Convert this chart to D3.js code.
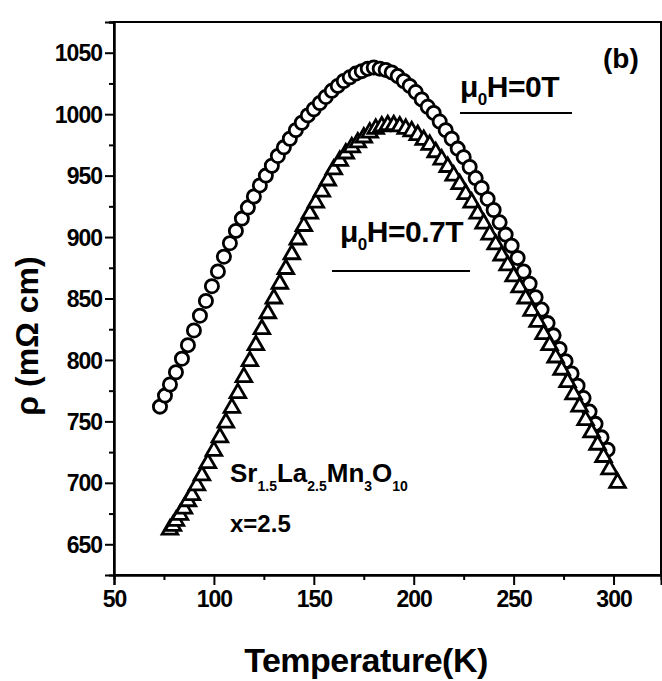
<!DOCTYPE html>
<html><head><meta charset="utf-8">
<script src="https://cdn.jsdelivr.net/npm/d3@7/dist/d3.min.js"></script>
<style>
html,body{margin:0;padding:0;background:#fff;}
text{font-family:"Liberation Sans",Arial,sans-serif;font-weight:bold;fill:#000;}
</style></head>
<body>
<svg id="chart" width="662" height="681"></svg>
<script>
// 0 T series (open circles)
const tempZero = [73,75.5,78,81,84,87,90,93,96,99,102,105,108,111,114,117,120,123,126,129,132,135,138,141,144,147,150,153,156,159,162,165,168,171,174,177,180,183,186,189,192,195,198,201,204,207,210,213,216,219,222,225,228,231,234,237,240,243,246,249,252,255,258,261,264,267,270,273,276,279,282,285,288,291,294,297];
const rhoZero = [762,771,780,790,801,812,824,836,848,860,872,884,895,905,915,924,933,942,950,958,966,973,980,987,993,999,1004,1009,1014,1019,1023,1027,1030,1033,1035,1037,1038,1037,1036,1034,1031,1027,1023,1018,1012,1006,1001,994,987,980,972,965,957,948,940,931,922,912,902,893,883,872,862,851,841,830,820,809,799,789,779,769,758,748,737,727];
// 0.7 T series (open triangles)
const tempField = [78,79.5,81,83,85,87,89,91.5,94,97,100,103,106,109,112,115,118,121,124,127,130,133,136,139,142,145,148,151,154,157,160,163,166,169,172,175,178,181,184,187,190,193,196,199,202,205,208,211,214,217,220,223,226,229,232,235,238,241,244,247,250,253,256,259,262,265,268,271,274,277,280,283,286,289,292,295,298,302];
const rhoField = [662,665,669,674,679,685,690,698,706,716,726,737,749,761,773,786,799,812,825,838,850,862,874,886,898,909,919,928,937,946,955,962,968,973,977,981,985,988,990,991,991,990,988,986,983,979,975,969,963,957,950,943,935,928,919,911,902,894,885,877,868,859,850,840,831,821,812,802,792,782,772,762,751,741,731,721,711,700];
const xTicks = [50,100,150,200,250,300];
const yTicks = [650,700,750,800,850,900,950,1000,1050];
const xMinor = [75,125,175,225,275];
const yMinor = [675,725,775,825,875,925,975,1025,1075];

const svg = d3.select("#chart");
const L = 114, R = 661, T = 22, B = 575;
const x = d3.scaleLinear().domain([50, 323.75]).range([L, R]);
const y = d3.scaleLinear().domain([625, 1075]).range([B, T]);

// frame
svg.append("rect").attr("x",L).attr("y",T).attr("width",R-L).attr("height",B-T)
  .attr("fill","none").attr("stroke","#000").attr("stroke-width",2);

// axes
const xAxis = svg.append("g").attr("transform",`translate(0,${B})`)
  .call(d3.axisBottom(x).tickValues(xTicks).tickSize(10).tickPadding(6).tickFormat(d3.format("d")));
svg.append("g").attr("transform",`translate(0,${B})`)
  .call(d3.axisBottom(x).tickValues(xMinor).tickSize(5).tickFormat(""));
const yAxis = svg.append("g").attr("transform",`translate(${L},0)`)
  .call(d3.axisLeft(y).tickValues(yTicks).tickSize(9).tickPadding(3).tickFormat(d3.format("d")));
svg.append("g").attr("transform",`translate(${L},0)`)
  .call(d3.axisLeft(y).tickValues(yMinor).tickSize(5).tickFormat(""));
svg.selectAll(".domain").attr("stroke","#000").attr("stroke-width",2);
svg.selectAll(".tick line").attr("stroke","#000").attr("stroke-width",2);
xAxis.selectAll("text").style("font-size","23px").style("letter-spacing","-1px");
yAxis.selectAll("text").style("font-size","23px").style("letter-spacing","-1px").attr("dy","0.35em");

// axis titles
svg.append("text").attr("x",366).attr("y",672).attr("text-anchor","middle")
  .style("font-size","34px").style("letter-spacing","-0.5px").text("Temperature(K)");
svg.append("text").attr("transform","translate(38,336) rotate(-90)").attr("text-anchor","middle")
  .style("font-size","32px").text("ρ (mΩ cm)");

// data markers
const circ = tempZero.map((t,i)=>({t, r:rhoZero[i]}));
const tri = tempField.map((t,i)=>({t, r:rhoField[i]}));
svg.append("g").selectAll("circle").data(circ).join("circle")
  .attr("cx",d=>x(d.t)).attr("cy",d=>y(d.r)).attr("r",6.6)
  .attr("fill","#fff").attr("stroke","#000").attr("stroke-width",2.8);
const triSym = d3.symbol().type(d3.symbolTriangle).size(105);
svg.append("g").selectAll("path").data(tri).join("path")
  .attr("transform",d=>`translate(${x(d.t)},${y(d.r)})`).attr("d",triSym)
  .attr("fill","#fff").attr("stroke","#000").attr("stroke-width",2.8);

// legend labels
function fieldLabel(px, py, val){
  const t = svg.append("text").attr("x",px).attr("y",py).style("font-size","30px").style("letter-spacing","-0.5px");
  t.append("tspan").text("μ");
  t.append("tspan").attr("dy",8).style("font-size","17px").text("0");
  t.append("tspan").attr("dy",-8).text("H=" + val);
}
fieldLabel(460, 97, "0T");
svg.append("line").attr("x1",460).attr("x2",572).attr("y1",113).attr("y2",113).attr("stroke","#000").attr("stroke-width",2.2);
fieldLabel(340, 242, "0.7T");
svg.append("line").attr("x1",332).attr("x2",470).attr("y1",271).attr("y2",271).attr("stroke","#000").attr("stroke-width",2.2);

svg.append("text").attr("x",603).attr("y",68).style("font-size","28px").text("(b)");

// compound label
const c = svg.append("text").attr("x",230).attr("y",482).style("font-size","26px");
c.append("tspan").text("Sr");
c.append("tspan").attr("dy",9).style("font-size","14px").text("1.5");
c.append("tspan").attr("dy",-9).text("La");
c.append("tspan").attr("dy",9).style("font-size","14px").text("2.5");
c.append("tspan").attr("dy",-9).text("Mn");
c.append("tspan").attr("dy",9).style("font-size","14px").text("3");
c.append("tspan").attr("dy",-9).text("O");
c.append("tspan").attr("dy",9).style("font-size","14px").text("10");
svg.append("text").attr("x",230).attr("y",532).style("font-size","24px").text("x=2.5");
</script>
</body></html>
